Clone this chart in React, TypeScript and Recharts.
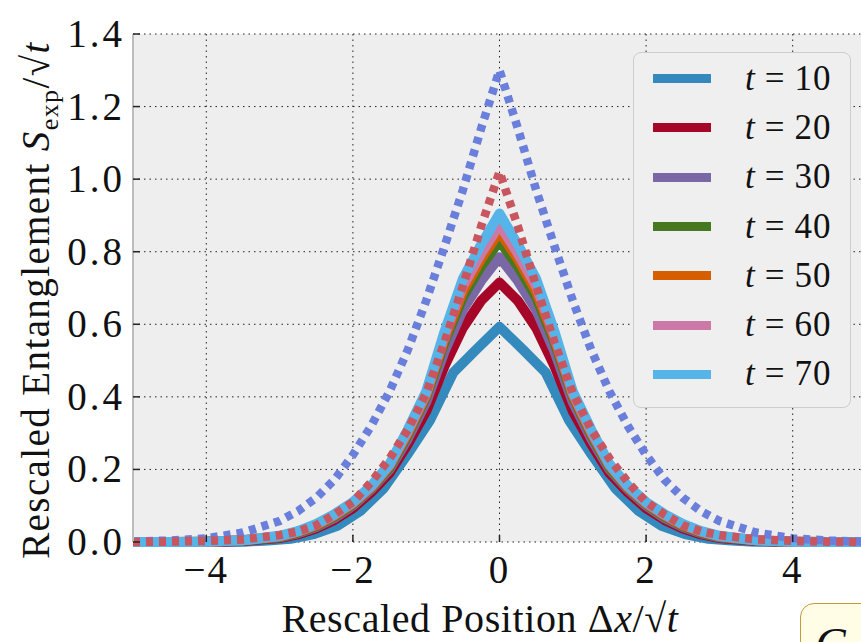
import { LineChart, Line, XAxis, YAxis, CartesianGrid, Legend } from "recharts"

// common x grid for the rescaled position (Δx/√t)
const xGrid = [
  -5, -4.5, -4, -3.5, -3, -2.75, -2.5, -2.25, -2, -1.75, -1.5, -1.25, -1, -0.75, -0.5, -0.25,
  0, 0.25, 0.5, 0.75, 1, 1.25, 1.5, 1.75, 2, 2.25, 2.5, 2.75, 3, 3.5, 4, 4.5, 5,
]

// t = 10 is sampled on its own lattice, step 1/√10
const x10 = [
  -4.74, -4.43, -4.11, -3.79, -3.48, -3.16, -2.85, -2.53, -2.21, -1.9, -1.58, -1.26, -0.95, -0.63, -0.32,
  0, 0.32, 0.63, 0.95, 1.26, 1.58, 1.9, 2.21, 2.53, 2.85, 3.16, 3.48, 3.79, 4.11, 4.43, 4.74,
]

const s10 = [
  0, 0, 0, 0, 0.001, 0.004, 0.009, 0.022, 0.045, 0.085, 0.148, 0.24, 0.335, 0.467, 0.53,
  0.593, 0.53, 0.467, 0.335, 0.24, 0.148, 0.085, 0.045, 0.022, 0.009, 0.004, 0.001, 0, 0, 0, 0,
]
const s20 = [
  0, 0, 0, 0.003, 0.011, 0.021, 0.037, 0.061, 0.093, 0.137, 0.19, 0.27, 0.36, 0.485, 0.59, 0.665,
  0.715, 0.665, 0.59, 0.485, 0.36, 0.27, 0.19, 0.137, 0.093, 0.061, 0.037, 0.021, 0.011, 0.003, 0, 0, 0,
]
const s30 = [
  0, 0, 0.001, 0.004, 0.013, 0.024, 0.041, 0.066, 0.1, 0.145, 0.2, 0.285, 0.385, 0.525, 0.64, 0.72,
  0.785, 0.72, 0.64, 0.525, 0.385, 0.285, 0.2, 0.145, 0.1, 0.066, 0.041, 0.024, 0.013, 0.004, 0.001, 0, 0,
]
const s40 = [
  0, 0, 0.001, 0.004, 0.014, 0.026, 0.044, 0.07, 0.104, 0.148, 0.205, 0.295, 0.4, 0.55, 0.675, 0.76,
  0.83, 0.76, 0.675, 0.55, 0.4, 0.295, 0.205, 0.148, 0.104, 0.07, 0.044, 0.026, 0.014, 0.004, 0.001, 0, 0,
]
const s50 = [
  0, 0, 0.001, 0.005, 0.015, 0.028, 0.046, 0.073, 0.106, 0.15, 0.21, 0.3, 0.405, 0.56, 0.69, 0.78,
  0.855, 0.78, 0.69, 0.56, 0.405, 0.3, 0.21, 0.15, 0.106, 0.073, 0.046, 0.028, 0.015, 0.005, 0.001, 0, 0,
]
const s60 = [
  0, 0, 0.001, 0.005, 0.016, 0.029, 0.048, 0.075, 0.108, 0.152, 0.212, 0.305, 0.41, 0.57, 0.705, 0.795,
  0.875, 0.795, 0.705, 0.57, 0.41, 0.305, 0.212, 0.152, 0.108, 0.075, 0.048, 0.029, 0.016, 0.005, 0.001, 0, 0,
]
const s70 = [
  0, 0, 0.001, 0.005, 0.017, 0.03, 0.05, 0.077, 0.11, 0.155, 0.215, 0.31, 0.415, 0.58, 0.725, 0.82,
  0.905, 0.82, 0.725, 0.58, 0.415, 0.31, 0.215, 0.155, 0.11, 0.077, 0.05, 0.03, 0.017, 0.005, 0.001, 0, 0,
]
// dotted reference curves
const refBlue = [
  0.001, 0.004, 0.01, 0.026, 0.058, 0.085, 0.122, 0.172, 0.24, 0.32, 0.415, 0.53, 0.665, 0.815, 0.97, 1.14,
  1.3, 1.14, 0.97, 0.815, 0.665, 0.53, 0.415, 0.32, 0.24, 0.172, 0.122, 0.085, 0.058, 0.026, 0.01, 0.004, 0.001,
]
const refRed = [
  0, 0.001, 0.003, 0.007, 0.019, 0.029, 0.046, 0.076, 0.11, 0.165, 0.23, 0.31, 0.41, 0.55, 0.705, 0.87,
  1.02, 0.87, 0.705, 0.55, 0.41, 0.31, 0.23, 0.165, 0.11, 0.076, 0.046, 0.029, 0.019, 0.007, 0.003, 0.001, 0,
]

const xTicks = [-4, -2, 0, 2, 4]
const yTicks = [0, 0.2, 0.4, 0.6, 0.8, 1.0, 1.2, 1.4]

const toPoints = (xs: number[], ys: number[]) => xs.map((x, i) => ({ x, y: ys[i] }))

const series = [
  { name: "10", color: "#348ABD", data: toPoints(x10, s10) },
  { name: "20", color: "#A60628", data: toPoints(xGrid, s20) },
  { name: "30", color: "#7A68A6", data: toPoints(xGrid, s30) },
  { name: "40", color: "#467821", data: toPoints(xGrid, s40) },
  { name: "50", color: "#D55E00", data: toPoints(xGrid, s50) },
  { name: "60", color: "#CC79A7", data: toPoints(xGrid, s60) },
  { name: "70", color: "#56B4E9", data: toPoints(xGrid, s70) },
]

const dotted = [
  { name: "refBlue", color: "#6a7edb", data: toPoints(xGrid, refBlue) },
  { name: "refRed", color: "#c9555e", data: toPoints(xGrid, refRed) },
]

const FONT = "'Liberation Serif', 'DejaVu Serif', serif"

const XTick = (props: any) => {
  const { x, y, payload } = props
  const v = payload.value
  return (
    <g>
      <line x1={x} x2={x} y1={y} y2={y - 7} stroke="#222" strokeWidth={1.5} />
      <text x={x} y={y + 41} textAnchor="middle" fontSize={39} fontFamily={FONT} fill="#111" letterSpacing={2}>
        {v < 0 ? `\u2212${-v}` : `${v}`}
      </text>
    </g>
  )
}

const YTick = (props: any) => {
  const { x, y, payload } = props
  return (
    <g>
      <line x1={x} x2={x + 7} y1={y} y2={y} stroke="#222" strokeWidth={1.5} />
      <text x={x - 8} y={y + 13} textAnchor="end" fontSize={39} fontFamily={FONT} fill="#111" letterSpacing={3}>
        {payload.value.toFixed(1)}
      </text>
    </g>
  )
}

const LegendBox = () => (
  <div
    style={{
      width: 218,
      height: 356,
      boxSizing: "border-box",
      border: "1px solid #cdcdcd",
      borderRadius: 8,
      background: "#efefef",
      paddingTop: 1,
      fontFamily: FONT,
    }}
  >
    {series.map((s) => (
      <div key={s.name} style={{ display: "flex", alignItems: "center", height: 49.3 }}>
        <div style={{ marginLeft: 19, width: 58, height: 9, background: s.color }} />
        <div style={{ marginLeft: 34, fontSize: 35, color: "#111", whiteSpace: "nowrap", letterSpacing: 1 }}>
          <i>t</i>
          <span style={{ margin: "0 9px" }}>=</span>
          {s.name}
        </div>
      </div>
    ))}
  </div>
)

export default function App() {
  return (
    <div style={{ position: "absolute", left: 0, top: 0, width: 861, height: 642, overflow: "hidden", background: "#fff" }}>
      <LineChart width={900} height={642} margin={{ top: 34, right: 34, left: 0, bottom: 0 }}>
        <CartesianGrid fill="#eeeeee" stroke="#222" strokeDasharray="1.5 4" />
        <XAxis
          dataKey="x"
          type="number"
          domain={[-5, 5]}
          ticks={xTicks}
          allowDataOverflow
          height={100}
          axisLine={false}
          tickLine={false}
          tickSize={0}
          tickMargin={0}
          tick={<XTick />}
          label={{
            content: () => (
              <text x={480} y={632} textAnchor="middle" fontSize={40} fontFamily={FONT} fill="#111" letterSpacing={0.6}>
                Rescaled Position Δ<tspan fontStyle="italic">x</tspan>/√<tspan fontStyle="italic">t</tspan>
              </text>
            ),
          }}
        />
        <YAxis
          type="number"
          domain={[0, 1.4]}
          ticks={yTicks}
          width={133}
          axisLine={{ stroke: "#bdbdbd", strokeWidth: 2 }}
          tickLine={false}
          tickSize={0}
          tickMargin={0}
          tick={<YTick />}
          label={{
            content: () => (
              <text transform="rotate(-90)" x={-300} y={49} textAnchor="middle" fontSize={39} fontFamily={FONT} fill="#111" letterSpacing={1.4}>
                Rescaled Entanglement <tspan fontStyle="italic">S</tspan>
                <tspan dy={9} fontSize={26}>exp</tspan>
                <tspan dy={-9}>/√</tspan>
                <tspan fontStyle="italic">t</tspan>
              </text>
            ),
          }}
        />
        {series.map((s) => (
          <Line
            key={s.name}
            data={s.data}
            dataKey="y"
            type="linear"
            stroke={s.color}
            strokeWidth={10}
            strokeLinejoin="round"
            dot={false}
            activeDot={false}
            isAnimationActive={false}
          />
        ))}
        {dotted.map((s) => (
          <Line
            key={s.name}
            data={s.data}
            dataKey="y"
            type="linear"
            stroke={s.color}
            strokeWidth={8.5}
            strokeDasharray="7 6"
            strokeLinecap="butt"
            dot={false}
            activeDot={false}
            legendType="none"
            isAnimationActive={false}
          />
        ))}
        <Legend
          layout="vertical"
          align="center"
          verticalAlign="middle"
          content={<LegendBox />}
          wrapperStyle={{ left: 633, top: 52, width: 218, height: 356 }}
        />
      </LineChart>
      <div
        style={{
          position: "absolute",
          left: 800,
          top: 603,
          width: 120,
          height: 80,
          boxSizing: "border-box",
          border: "1.5px solid #c8973a",
          borderRadius: 14,
          background: "#fffde6",
          overflow: "hidden",
        }}
      >
        <span style={{ position: "absolute", left: 14, top: 14, fontSize: 46, fontStyle: "italic", fontFamily: FONT, color: "#111" }}>
          C
        </span>
      </div>
    </div>
  )
}
